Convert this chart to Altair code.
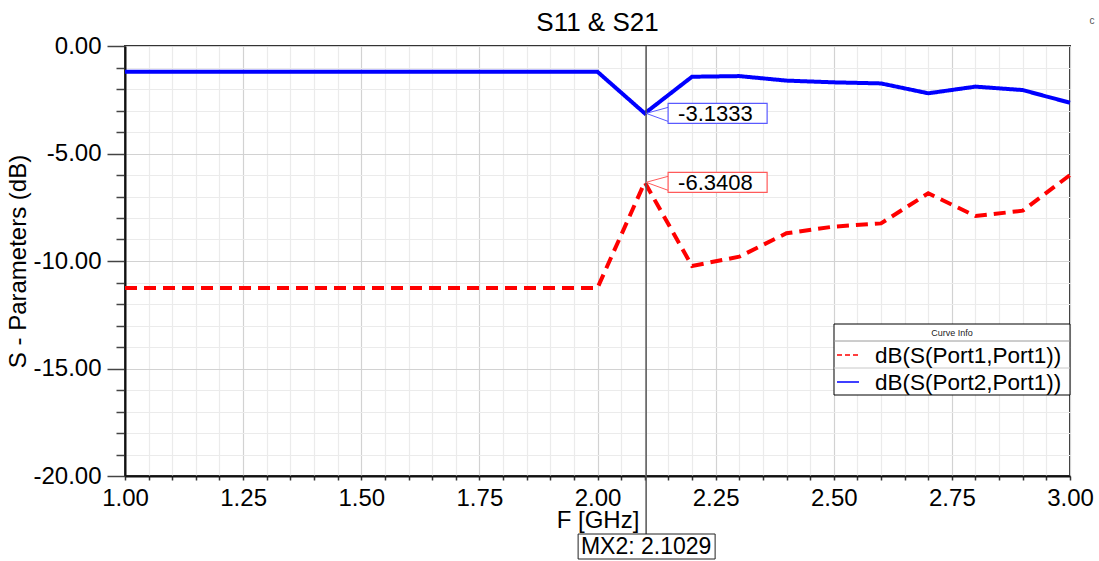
import altair as alt
import pandas as pd

# Sweep frequencies (GHz) and simulated S-parameter magnitudes (dB)
freq = [1.0, 2.0, 2.1, 2.2, 2.3, 2.4, 2.5, 2.6, 2.7, 2.8, 2.9, 3.0]
s11_db = [-11.25, -11.25, -6.3408, -10.23, -9.80, -8.71, -8.40, -8.25, -6.85, -7.91, -7.66, -6.00]
s21_db = [-1.20, -1.20, -3.1333, -1.43, -1.40, -1.61, -1.69, -1.74, -2.20, -1.89, -2.05, -2.64]

series_names = ["dB(S(Port1,Port1))", "dB(S(Port2,Port1))"]
series_colors = ["#ff0000", "#0000ff"]
series_dash = [[12, 7], [1, 0]]

# Marker MX2 and the curve values read at it
marker_name = "MX2"
marker_f = 2.1029
marker_vals = [-6.3408, -3.1333]
marker_edge = ["#ff5a5a", "#5a5aff"]

x_ticks = [round(1.0 + 0.05 * i, 2) for i in range(41)]
y_ticks = list(range(-20, 1))

FONT = "Liberation Sans"
W, H = 945, 430

curves = pd.DataFrame({
    "f": freq * 2,
    "db": s11_db + s21_db,
    "series": [series_names[0]] * len(freq) + [series_names[1]] * len(freq),
})
markers = pd.DataFrame({
    "f": [marker_f] * 2,
    "db": marker_vals,
    "series": series_names,
    "label": [f"{v:.4f}" for v in marker_vals],
    "edge": marker_edge,
})
mx = pd.DataFrame({"f": [marker_f], "label": [f"{marker_name}: {marker_f:.4f}"]})
one = pd.DataFrame({"a": [0]})

major_x = "abs(datum.value * 4 - round(datum.value * 4)) < 0.001"
major_y = "datum.value % 5 === 0"
# plain hyphen for negative numbers
label_x = f"{major_x} ? replace(format(datum.value, '.2f'), '\u2212', '-') : ''"
label_y = f"{major_y} ? replace(format(datum.value, '.2f'), '\u2212', '-') : ''"

x_enc = alt.X(
    "f:Q",
    scale=alt.Scale(domain=[1, 3], nice=False, zero=False),
    axis=alt.Axis(
        values=x_ticks, tickCount=200, labelExpr=label_x,
        title="F [GHz]", titleFont=FONT, titleFontSize=24, titleFontWeight="normal",
        titleColor="black", titleX=W / 2, titleY=51, titleBaseline="alphabetic",
        labelFont=FONT, labelFontSize=24, labelColor="black", labelPadding=6,
        labelOverlap=False, labelFlush=False, labelBound=False,
        tickSize=4, tickColor="#333", tickWidth=1.5,
        domainColor="#111", domainWidth=2,
        gridColor={"condition": {"test": major_x, "value": "#d2d2d2"}, "value": "#ebebeb"},
        gridWidth=1.2,
    ),
)
y_enc = alt.Y(
    "db:Q",
    scale=alt.Scale(domain=[-20, 0], nice=False, zero=False),
    axis=alt.Axis(
        values=y_ticks, tickCount=200, labelExpr=label_y,
        title="S - Parameters (dB)", titleFont=FONT, titleFontSize=24,
        titleFontWeight="normal", titleColor="black", titleAngle=-90,
        titleX=-100, titleY=H / 2, titleBaseline="alphabetic", titleAlign="center",
        labelFont=FONT, labelFontSize=24, labelColor="black", labelPadding=6,
        labelOverlap=False, labelFlush=False, labelBound=False,
        tickSize={"condition": {"test": major_y, "value": 18}, "value": 9},
        tickColor="#444", tickWidth=1.5,
        domainColor="#111", domainWidth=2,
        gridColor={"condition": {"test": major_y, "value": "#d2d2d2"}, "value": "#ebebeb"},
        gridWidth=1.2,
    ),
)

color_enc = alt.Color("series:N", scale=alt.Scale(domain=series_names, range=series_colors), legend=None)
dash_enc = alt.StrokeDash("series:N", scale=alt.Scale(domain=series_names, range=series_dash), legend=None)

lines = alt.Chart(curves).mark_line(strokeWidth=4, strokeCap="butt", strokeJoin="miter").encode(
    x=x_enc, y=y_enc, color=color_enc, strokeDash=dash_enc, order=alt.Order("f:Q")
)

marker_line = alt.Chart(mx).mark_rule(color="#555", strokeWidth=1.5).encode(
    x="f:Q", y=alt.value(0), y2=alt.value(488)
)
marker_box = alt.Chart(mx).mark_rect(
    fill="white", stroke="#222", strokeWidth=1, xOffset=-68, x2Offset=69
).encode(x="f:Q", x2="f:Q", y=alt.value(488), y2=alt.value(513))
marker_text = alt.Chart(mx).mark_text(
    font=FONT, fontSize=23, color="black", align="center", baseline="middle"
).encode(x="f:Q", y=alt.value(501), text="label:N")

# Callouts carrying the curve values at the marker
callout_box = alt.Chart(markers).mark_rect(
    fill="white", strokeWidth=1.2, xOffset=22, x2Offset=121, yOffset=-10, y2Offset=10
).encode(x="f:Q", x2="f:Q", y="db:Q", y2="db:Q", stroke=alt.Stroke("edge:N", scale=None))
ptr_up = alt.Chart(markers).mark_rule(strokeWidth=1, x2Offset=22, y2Offset=-6).encode(
    x="f:Q", x2="f:Q", y="db:Q", y2="db:Q", color=alt.Color("edge:N", scale=None)
)
ptr_dn = alt.Chart(markers).mark_rule(strokeWidth=1, x2Offset=22, y2Offset=8).encode(
    x="f:Q", x2="f:Q", y="db:Q", y2="db:Q", color=alt.Color("edge:N", scale=None)
)
callout_text = alt.Chart(markers).mark_text(
    font=FONT, fontSize=22, color="black", align="left", baseline="middle", dx=32, dy=1
).encode(x="f:Q", y="db:Q", text="label:N")

# Curve info table
LX0, LX1, LY0, LY1 = 709, 945, 278, 349
legend_layers = [
    alt.Chart(one).mark_rect(fill="white", stroke="black", strokeWidth=1).encode(
        x=alt.value(LX0), x2=alt.value(LX1), y=alt.value(LY0), y2=alt.value(LY1)
    ),
    alt.Chart(one).mark_text(font=FONT, fontSize=9, color="#222", align="center", baseline="middle").encode(
        x=alt.value((LX0 + LX1) / 2), y=alt.value(LY0 + 9), text=alt.value("Curve Info")
    ),
    alt.Chart(one).mark_rule(color="#9a9a9a", strokeWidth=1).encode(
        x=alt.value(LX0), x2=alt.value(LX1), y=alt.value(LY0 + 17)
    ),
    alt.Chart(one).mark_rule(color="#c8c8c8", strokeWidth=1).encode(
        x=alt.value(LX0), x2=alt.value(LX1), y=alt.value(LY0 + 44)
    ),
]
for i, name in enumerate(series_names):
    row_y = LY0 + 31 + 27 * i
    legend_layers.append(
        alt.Chart(one).mark_rule(color=series_colors[i], strokeWidth=1.5,
                                 strokeDash=[5, 3] if i == 0 else [1, 0]).encode(
            x=alt.value(LX0 + 3), x2=alt.value(LX0 + 25), y=alt.value(row_y)
        )
    )
    legend_layers.append(
        alt.Chart(one).mark_text(font=FONT, fontSize=22.5, color="black", align="left", baseline="middle", dy=1).encode(
            x=alt.value(LX0 + 41), y=alt.value(row_y), text=alt.value(name)
        )
    )

title = alt.Chart(one).mark_text(font=FONT, fontSize=26, color="black", align="center", baseline="alphabetic").encode(
    x=alt.value(W / 2), y=alt.value(-15.5), text=alt.value("S11 & S21")
)
corner = alt.Chart(one).mark_text(font=FONT, fontSize=10, color="#555", align="center", baseline="middle").encode(
    x=alt.value(967), y=alt.value(-25), text=alt.value("c")
)

chart = alt.layer(
    lines, marker_line, marker_box, marker_text,
    ptr_up, ptr_dn, callout_box, callout_text,
    *legend_layers, title, corner,
).properties(
    width=W, height=H,
    autosize=alt.AutoSizeParams(type="none"),
    padding={"left": 125, "top": 46, "right": 29, "bottom": 85},
    background="white",
).configure_view(stroke="#333", strokeWidth=2).configure_axis(
    labelOverlap=False, labelFlush=False
)

chart.save("out.html", embed_options={"renderer": "svg", "actions": False})
